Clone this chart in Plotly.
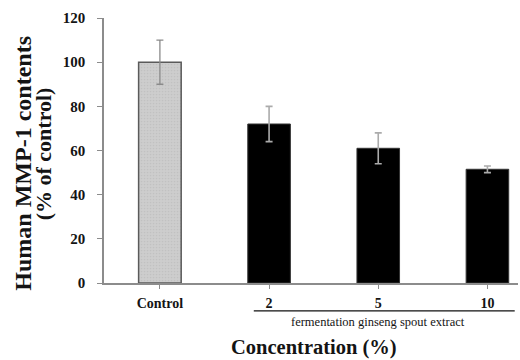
import plotly.graph_objects as go

# ---- data ----
categories = ["Control", "2", "5", "10"]
values = [100, 72, 61, 51.5]
errors = [10, 8, 7, 1.5]
y_ticks = [0, 20, 40, 60, 80, 100, 120]

group_label = "fermentation ginseng spout extract"
x_title = "Concentration (%)"
y_title_1 = "Human MMP-1 contents"
y_title_2 = "(% of control)"

SERIF = "Liberation Serif, Times New Roman, serif"
TXT = "#141414"

fig = go.Figure()

# control bar
fig.add_trace(go.Bar(
    x=categories[:1], y=values[:1],
    width=0.39,
    marker=dict(color="#c9c9c9", line=dict(color="#5a5a5a", width=1.5),
                pattern=dict(shape=".", size=3, solidity=0.25, fgcolor="#b5b5b5", bgcolor="#cdcdcd")),
    error_y=dict(type="data", array=errors[:1], visible=True,
                 color="#8a8a8a", thickness=1.3, width=3.5),
    showlegend=False,
))

# extract bars
fig.add_trace(go.Bar(
    x=categories[1:], y=values[1:],
    width=0.39,
    marker=dict(color="#000000", line=dict(color="#333333", width=1)),
    error_y=dict(type="data", array=errors[1:], visible=True,
                 color="#ababab", thickness=1.6, width=3.5),
    showlegend=False,
))

fig.update_layout(
    width=520, height=360,
    margin=dict(l=104, r=2, t=18, b=77, autoexpand=False),
    plot_bgcolor="white", paper_bgcolor="white",
    barmode="overlay",
    font=dict(family=SERIF, color=TXT),
)

fig.update_xaxes(
    type="category",
    categoryorder="array", categoryarray=categories,
    range=[-0.512, 3.28],
    automargin=False,
    showline=True, linecolor="#8c8c8c", linewidth=1.5,
    ticks="outside", ticklen=4, tickcolor="#8c8c8c", tickwidth=1,
    tickfont=dict(family=SERIF, size=14, color=TXT, weight="bold"),
    ticklabelstandoff=2,
    showgrid=False, zeroline=False,
)

fig.update_yaxes(
    range=[0, 120],
    tickvals=y_ticks,
    automargin=False,
    showline=True, linecolor="#8c8c8c", linewidth=1.5,
    ticks="outside", ticklen=5, tickcolor="#8c8c8c", tickwidth=1,
    tickfont=dict(family=SERIF, size=15, color=TXT, weight="bold"),
    ticklabelstandoff=9,
    showgrid=False, zeroline=False,
)

# bracket line under the extract group
fig.add_shape(type="line", xref="x", yref="paper",
              x0=0.86, x1=3.25, y0=-0.105, y1=-0.105,
              line=dict(color="#111111", width=1.3))

fig.add_annotation(text=group_label, xref="x", yref="paper",
                   x=2.0, y=-0.147, showarrow=False,
                   xanchor="center", yanchor="middle",
                   font=dict(family=SERIF, size=12.5, color=TXT))

fig.add_annotation(text=x_title, xref="paper", yref="paper",
                   x=0.507, y=-0.245, showarrow=False,
                   xanchor="center", yanchor="middle",
                   font=dict(family=SERIF, size=20.5, color=TXT, weight="bold"))

fig.add_annotation(text=y_title_1, xref="paper", yref="paper",
                   x=-0.1957, y=0.454, textangle=-90, showarrow=False,
                   xanchor="center", yanchor="middle",
                   font=dict(family=SERIF, size=24, color=TXT, weight="bold"))

fig.add_annotation(text=y_title_2, xref="paper", yref="paper",
                   x=-0.147, y=0.486, textangle=-90, showarrow=False,
                   xanchor="center", yanchor="middle",
                   font=dict(family=SERIF, size=22, color=TXT, weight="bold"))

# remove the default page margin so the figure sits at the window's top-left
fig.write_html("out.html",
               config={"displayModeBar": False},
               post_script="document.body.style.margin='0';document.body.style.padding='0';")
